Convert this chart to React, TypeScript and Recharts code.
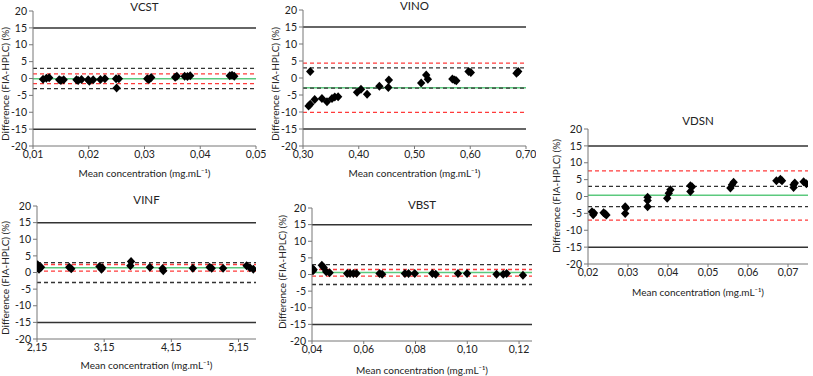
import React from "react";
import { ScatterChart, Scatter, XAxis, YAxis, ReferenceLine } from "recharts";

// Bland-Altman style panels: difference FIA vs HPLC (%)
const yTicks = [-20, -15, -10, -5, 0, 5, 10, 15, 20];
const outerLimits = [-15, 15];
const innerLimits = [-3, 3];

const vcstConc = [0.0118, 0.0124, 0.0129, 0.0147, 0.015, 0.0155, 0.0178, 0.0181, 0.0187, 0.0199, 0.0201, 0.0208, 0.0221, 0.0229, 0.0249, 0.025, 0.0254, 0.0305, 0.0308, 0.0312, 0.0355, 0.0358, 0.0372, 0.0377, 0.0382, 0.0453, 0.0457, 0.0461];
const vcstDiff = [-0.2, 0.1, 0.2, -0.4, -0.6, -0.4, -0.4, -0.6, -0.3, -0.4, -0.8, -0.4, -0.3, -0.1, -0.1, -2.8, -0.1, -0.1, -0.3, 0.3, 0.4, 0.7, 0.7, 0.6, 0.8, 0.8, 1.0, 0.7];
const vcstStats = { mean: -0.05, low: -1.5, high: 1.4 };
const vcstTicks = [0.01, 0.02, 0.03, 0.04, 0.05];

const vinoConc = [0.313, 0.31, 0.313, 0.321, 0.334, 0.343, 0.352, 0.357, 0.363, 0.397, 0.404, 0.415, 0.437, 0.453, 0.454, 0.512, 0.521, 0.524, 0.568, 0.572, 0.575, 0.597, 0.601, 0.683, 0.686];
const vinoDiff = [1.9, -8.2, -7.7, -6.3, -6.0, -7.0, -6.0, -5.6, -5.5, -4.2, -3.3, -4.8, -2.4, -2.8, -0.6, -1.5, 0.9, -0.4, -0.3, -0.6, -0.8, 1.9, 1.6, 1.4, 1.9];
const vinoStats = { mean: -2.9, low: -10.1, high: 4.4 };
const vinoTicks = [0.3, 0.4, 0.5, 0.6, 0.7];

const vdsnConc = [0.021, 0.0213, 0.0215, 0.0239, 0.0243, 0.0246, 0.0293, 0.0293, 0.0295, 0.0349, 0.0349, 0.0349, 0.0398, 0.0402, 0.0406, 0.0456, 0.0456, 0.046, 0.0556, 0.056, 0.0564, 0.0671, 0.0681, 0.0685, 0.0714, 0.0714, 0.0717, 0.0739, 0.0746];
const vdsnDiff = [-4.5, -5.4, -4.9, -4.8, -5.2, -5.5, -3.0, -5.0, -3.4, -0.2, -1.2, -3.0, -0.5, 1.0, 2.0, 3.2, 1.5, 2.9, 2.5, 3.5, 4.2, 4.7, 5.1, 4.7, 3.5, 2.7, 4.0, 4.4, 3.8];
const vdsnStats = { mean: 0.4, low: -7.0, high: 7.6 };
const vdsnTicks = [0.02, 0.03, 0.04, 0.05, 0.06, 0.07];

const vinfConc = [2.16, 2.17, 2.18, 2.21, 2.63, 2.66, 3.08, 3.11, 3.12, 3.54, 3.55, 3.83, 4.02, 4.03, 4.47, 4.72, 4.75, 4.92, 5.27, 5.32, 5.37];
const vinfDiff = [2.3, 1.5, 1.0, 1.6, 1.6, 1.1, 1.8, 1.0, 1.4, 2.0, 3.3, 1.6, 1.2, 0.5, 1.3, 1.6, 1.3, 1.3, 2.0, 1.4, 1.0];
const vinfStats = { mean: 1.4, low: 0.4, high: 2.4 };
const vinfTicks = [2.15, 3.15, 4.15, 5.15];

const vbstConc = [0.04, 0.0404, 0.0406, 0.0438, 0.0445, 0.0455, 0.0468, 0.0536, 0.0547, 0.056, 0.0572, 0.0661, 0.0671, 0.0759, 0.0773, 0.0797, 0.0865, 0.0878, 0.0964, 0.0999, 0.1113, 0.1139, 0.1152, 0.1215];
const vbstDiff = [1.8, 1.1, 1.5, 2.8, 2.1, 0.8, 0.5, 0.3, 0.3, 0.3, 0.3, 0.3, 0.1, 0.3, 0.3, 0.3, 0.3, 0.1, 0.3, 0.3, 0.1, 0.1, 0.3, -0.2];
const vbstStats = { mean: 0.6, low: -0.5, high: 1.5 };
const vbstTicks = [0.04, 0.06, 0.08, 0.1, 0.12];

const FONT = "Lato, 'Liberation Sans', sans-serif";
const TXT = "#222";
const Y_LABEL = "Difference (FIA-HPLC) (%)";
const X_LABEL = "Mean concentration (mg.mL⁻¹)";

const Diamond = (p: any) => {
  const { cx, cy } = p;
  if (cx == null || cy == null) return <g />;
  return (
    <polygon
      points={`${cx},${cy - 4.5} ${cx + 4.2},${cy} ${cx},${cy + 4.5} ${cx - 4.2},${cy}`}
      fill="#000"
    />
  );
};

interface PanelProps {
  title: string;
  conc: number[];
  diff: number[];
  stats: { mean: number; low: number; high: number };
  xTicks: number[];
  xMax: number;
  plot: { x1: number; x2: number; y1: number; y2: number };
  titleY: number;
  yLabelX: number;
  yLabelY: number;
  xLabelY: number;
}

function Panel(p: PanelProps) {
  const data = p.conc.map((c, i) => ({ x: c, y: p.diff[i] }));
  const yw = 33;
  const mt = 10;
  const mr = 10;
  const xh = 30;
  const W = p.plot.x2 - p.plot.x1 + yw + mr;
  const H = p.plot.y2 - p.plot.y1 + mt + xh;
  const cx = (p.plot.x1 + p.plot.x2) / 2;
  const fmt = (v: number) => v.toFixed(2).replace(".", ",");
  const tickStyle = { fontSize: 10.5, fill: TXT, fontFamily: FONT };
  return (
    <>
      <div
        style={{
          position: "absolute",
          left: cx - 60,
          width: 120,
          top: p.titleY - 7,
          textAlign: "center",
          fontSize: 11.5,
          color: TXT,
          fontFamily: FONT,
          lineHeight: "14px",
        }}
      >
        {p.title}
      </div>
      <div
        style={{
          position: "absolute",
          left: p.yLabelX - 80,
          top: p.yLabelY - 7,
          width: 160,
          textAlign: "center",
          fontSize: 10,
          color: TXT,
          fontFamily: FONT,
          lineHeight: "14px",
          transform: "rotate(-90deg)",
          whiteSpace: "nowrap",
        }}
      >
        {Y_LABEL}
      </div>
      <div
        style={{
          position: "absolute",
          left: cx - 90,
          width: 180,
          top: p.xLabelY - 7,
          textAlign: "center",
          fontSize: 10,
          color: TXT,
          fontFamily: FONT,
          lineHeight: "14px",
          whiteSpace: "nowrap",
        }}
      >
        {X_LABEL}
      </div>
      <div style={{ position: "absolute", left: p.plot.x1 - yw, top: p.plot.y1 - mt }}>
        <ScatterChart width={W} height={H} margin={{ top: mt, right: mr, left: 0, bottom: 0 }}>
          <XAxis
            type="number"
            dataKey="x"
            domain={[p.xTicks[0], p.xMax]}
            ticks={p.xTicks}
            interval={0}
            allowDataOverflow
            tickFormatter={fmt}
            height={xh}
            tickSize={3}
            stroke="#777"
            tick={tickStyle}
          />
          <YAxis
            type="number"
            dataKey="y"
            domain={[-20, 20]}
            ticks={yTicks}
            interval={0}
            width={yw}
            tickSize={4}
            stroke="#777"
            tick={tickStyle}
          />
          <ReferenceLine y={p.stats.mean} stroke="#5cc97e" strokeWidth={1.5} />
          <ReferenceLine y={p.stats.low} stroke="#ff3b3b" strokeWidth={1.3} strokeDasharray="4 3" />
          <ReferenceLine y={p.stats.high} stroke="#ff3b3b" strokeWidth={1.3} strokeDasharray="4 3" />
          {innerLimits.map((v) => (
            <ReferenceLine key={"i" + v} y={v} stroke="#333" strokeWidth={1.3} strokeDasharray="4 3" />
          ))}
          {outerLimits.map((v) => (
            <ReferenceLine key={"o" + v} y={v} stroke="#333" strokeWidth={1.5} />
          ))}
          <Scatter data={data} shape={Diamond} isAnimationActive={false} />
        </ScatterChart>
      </div>
    </>
  );
}

export default function App() {
  return (
    <div
      style={{
        position: "absolute",
        left: 0,
        top: 0,
        width: 813,
        height: 376,
        background: "#fff",
        overflow: "hidden",
      }}
    >
      <Panel
        title="VCST"
        conc={vcstConc}
        diff={vcstDiff}
        stats={vcstStats}
        xTicks={vcstTicks}
        xMax={0.05}
        plot={{ x1: 33, x2: 256, y1: 11, y2: 146 }}
        titleY={7}
        yLabelX={5}
        yLabelY={84}
        xLabelY={173}
      />
      <Panel
        title="VINO"
        conc={vinoConc}
        diff={vinoDiff}
        stats={vinoStats}
        xTicks={vinoTicks}
        xMax={0.7}
        plot={{ x1: 303, x2: 526, y1: 10, y2: 146 }}
        titleY={6}
        yLabelX={275}
        yLabelY={84}
        xLabelY={173}
      />
      <Panel
        title="VDSN"
        conc={vdsnConc}
        diff={vdsnDiff}
        stats={vdsnStats}
        xTicks={vdsnTicks}
        xMax={0.075}
        plot={{ x1: 588, x2: 808, y1: 129, y2: 264 }}
        titleY={121}
        yLabelX={556}
        yLabelY={196}
        xLabelY={292}
      />
      <Panel
        title="VINF"
        conc={vinfConc}
        diff={vinfDiff}
        stats={vinfStats}
        xTicks={vinfTicks}
        xMax={5.41}
        plot={{ x1: 37, x2: 256, y1: 206, y2: 339 }}
        titleY={200}
        yLabelX={5}
        yLabelY={278}
        xLabelY={365}
      />
      <Panel
        title="VBST"
        conc={vbstConc}
        diff={vbstDiff}
        stats={vbstStats}
        xTicks={vbstTicks}
        xMax={0.125}
        plot={{ x1: 312, x2: 532, y1: 208, y2: 341 }}
        titleY={205}
        yLabelX={282}
        yLabelY={272}
        xLabelY={370}
      />
    </div>
  );
}
